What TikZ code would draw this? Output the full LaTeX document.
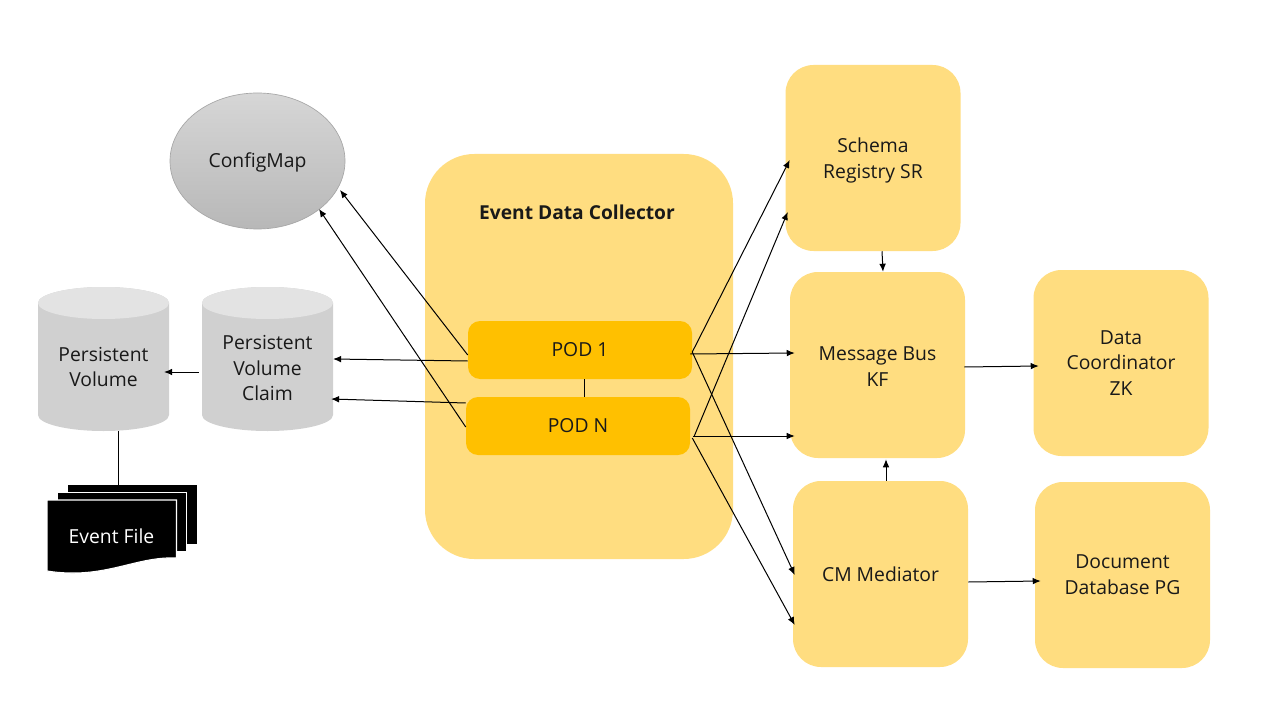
\documentclass[tikz,border=0pt]{standalone}
\usepackage{fontspec}
\setmainfont{Open Sans}
\usetikzlibrary{arrows.meta,shapes.geometric}
\definecolor{paleY}{HTML}{FFDD80}
\definecolor{podY}{HTML}{FFC000}
\definecolor{cylBody}{HTML}{D0D0D0}
\definecolor{cylTop}{HTML}{E3E3E3}
\newcommand{\lift}[1]{\rule{0pt}{#1}}
\tikzset{
  x=0.75pt,y=-0.75pt,
  lbl/.style={font=\fontsize{14.5}{19.3}\selectfont,align=center,text=black!90},
  yel/.style={fill=paleY,draw=none,rounded corners=21pt,minimum width=131.25pt,minimum height=139.5pt,inner sep=0pt,lbl},
  podbox/.style={fill=podY,draw=none,rounded corners=9pt,minimum width=168pt,minimum height=43.5pt,inner sep=0pt,lbl},
  conn/.style={draw=black,line width=0.75pt,-{Latex[length=6pt,width=5pt]}},
  plain/.style={draw=black,line width=0.75pt},
  page/.style={fill=black,draw=white,line width=0.8pt},
}
\newcommand{\cyl}[1]{% x centre
  \fill[cylBody] (#1-65.5,303) -- (#1-65.5,415) arc[start angle=180,end angle=0,x radius=65.5,y radius=16] -- (#1+65.5,303) arc[start angle=0,end angle=-180,x radius=65.5,y radius=16] -- cycle;
  \fill[cylTop] (#1,303) ellipse[x radius=65.5,y radius=16];
}
\begin{document}
\begin{tikzpicture}
\useasboundingbox (0,0) rectangle (1280,720);
\fill[white] (0,0) rectangle (1280,720);
% collector
\node[yel,rounded corners=37pt,minimum width=231pt,minimum height=303.75pt] (edc) at (579,356.5) {};
\node[lbl,font=\fontsize{14.4}{19}\selectfont\bfseries] (edct) at (577,212) {Event Data Collector};
\node[podbox] (pod1) at (580,350) {POD 1};
\node[podbox] (podn) at (578,426) {POD N};
% right boxes
\node[yel] (sr) at (873,158) {\lift{14.5pt}Schema\\Registry SR};
\node[yel] (kf) at (877.5,365) {\lift{12.5pt}Message Bus\\KF};
\node[yel] (cm) at (880.5,574) {CM Mediator};
\node[yel] (zk) at (1121,363) {Data\\Coordinator\\ZK};
\node[yel] (pg) at (1122.5,575) {Document\\Database PG};
% config map
\shade[top color=black!16,bottom color=black!28,draw=black!35,line width=0.5pt] (257.5,161) ellipse[x radius=87.5,y radius=68];
\node[lbl,inner sep=0pt,minimum width=131.25pt,minimum height=102pt,shape=ellipse] (cfg) at (257.5,162.5) {ConfigMap};
% cylinders
\cyl{103.5}
\cyl{267.5}
\node[lbl,minimum width=98pt,minimum height=108pt,inner sep=0pt] (pv) at (103.5,359) {};
\node[lbl,minimum width=98pt,minimum height=108pt,inner sep=0pt] (pvc) at (267.5,359) {};
\node[lbl] (pvt) at (103.5,367) {Persistent\\Volume};
\node[lbl] (pvct) at (267.5,368) {Persistent\\Volume\\Claim};
% event file
\node[fill=black,draw=none,minimum width=96.75pt,minimum height=44.25pt,inner sep=0pt] (p3) at (132.5,514.5) {};
\node[page,minimum width=96.75pt,minimum height=44.25pt,inner sep=0pt] (p2) at (122,522) {};
\path[page] (47,500) -- (176.5,500) -- (176.5,558)
  .. controls (135,556) and (105,580) .. (47,571) -- cycle;
\node[inner sep=0pt,text=white,font=\fontsize{14.5}{19}\selectfont] (ef) at (111.5,536) {Event File};
% connectors
\draw[conn] ([shift={(-3,13)}]pvc.west) -- ([shift={(-5,13)}]pv.east);
\draw[conn] ([shift={(0,11)}]pod1.west) -- (pvc.east);
\draw[conn] ([shift={(0,-23)}]podn.west) -- ([shift={(-2,40)}]pvc.east);
\draw[conn] ([shift={(0,5)}]pod1.west) -- ([shift={(82.5,27.5)}]cfg.center);
\draw[conn] ([shift={(0,1)}]podn.west) -- ([shift={(61.5,46.5)}]cfg.center);
\draw[plain] ([shift={(4,0)}]pod1.south) -- ([shift={(6,0)}]podn.north);
\draw[plain] ([shift={(15,0)}]pv.south) -- ([shift={(-14,0)}]p3.north);
\draw[conn] ([shift={(-2,4)}]pod1.east) -- ([shift={(5,-12)}]kf.west);
\draw[conn] ([shift={(3,10)}]podn.east) -- ([shift={(5,71)}]kf.west);
\draw[conn] ([shift={(0,2)}]pod1.east) -- ([shift={(4.5,2)}]sr.west);
\draw[conn] ([shift={(4,10)}]podn.east) -- ([shift={(2.5,54)}]sr.west);
\draw[conn] ([shift={(0,2)}]pod1.east) -- ([shift={(2,1)}]cm.west);
\draw[conn] ([shift={(2,12)}]podn.east) -- ([shift={(2,51)}]cm.west);
\draw[conn] ([shift={(9,0)}]sr.south) -- ([shift={(5.5,0)}]kf.north);
\draw[conn] ([shift={(5.5,0)}]cm.north) -- ([shift={(8.5,1)}]kf.south);
\draw[conn] ([shift={(-1,2)}]kf.east) -- ([shift={(5.5,3)}]zk.west);
\draw[conn] ([shift={(0,8)}]cm.east) -- ([shift={(6,6)}]pg.west);
\end{tikzpicture}
\end{document}
